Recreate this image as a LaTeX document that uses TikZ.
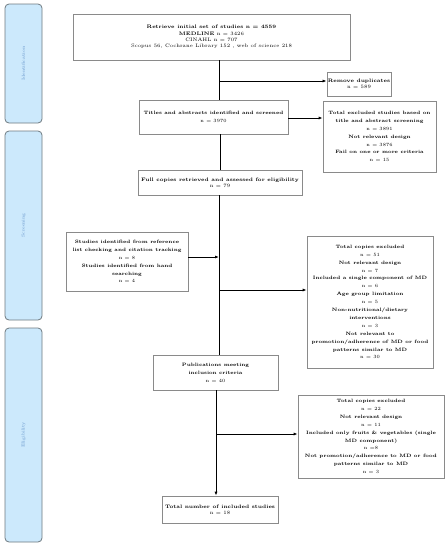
\documentclass[tikz,border=0pt]{standalone}
\usetikzlibrary{arrows.meta}
\definecolor{barfill}{HTML}{CCE9FC}
\definecolor{barline}{HTML}{6F7A80}
\definecolor{bartext}{HTML}{5E8FC8}
\definecolor{boxline}{HTML}{8A8A8A}
\begin{document}
\begin{tikzpicture}[x=1pt,y=-1pt,
  phase/.style={draw=barline,line width=0.8pt,fill=barfill,rounded corners=4pt,minimum width=37pt,inner sep=0pt},
  phasetext/.style={rotate=90,text=bartext,font=\fontsize{4.3}{5}\selectfont},
  fbox/.style={draw=boxline,line width=0.7pt,align=center,inner sep=1pt,font=\fontsize{4.8}{7.9}\selectfont},
  tightbox/.style={fbox,font=\fontsize{5}{6.4}\selectfont},
  conn/.style={line width=0.8pt,black},
  arr/.style={conn,-{Latex[length=4pt,width=3pt]}}]
\useasboundingbox (0,0) rectangle (447,550);
\fill[white] (0,0) rectangle (447,550);
% phase bars
\node[phase,minimum height=119pt] (idb) at (23.5,63.5) {};
\node[phasetext] (idt) at (idb.center) {Identification};
\node[phase,minimum height=189pt] (scb) at (23.5,225.5) {};
\node[phasetext] (sct) at (scb.center) {Screening};
\node[phase,minimum height=214pt] (elb) at (23.5,435) {};
\node[phasetext] (elt) at (elb.center) {Eligibility};
% boxes
\node[tightbox,minimum width=277pt,minimum height=46pt] (box1) at (211.5,37) {\textbf{Retrieve initial set of studies n = 4559}\\\textbf{MEDLINE} n = 3426\\CINAHL n = 707\\Scopus 56, Cochrane Library 152 , web of science 218};
\node[tightbox,minimum width=64pt,minimum height=24pt] (dup) at (359,84) {\textbf{Remove duplicates}\\n = 589};
\node[fbox,minimum width=149pt,minimum height=34pt] (titles) at (213.5,117) {\textbf{Titles and abstracts identified and screened}\\n = 3970};
\node[fbox,minimum width=113pt,minimum height=71pt] (ex1) at (379.5,136.5) {\textbf{Total excluded studies based on}\\\textbf{title and abstract screening}\\n = 3891\\\textbf{Not relevant design}\\n = 3876\\\textbf{Fail on one or more criteria}\\n = 15};
\node[tightbox,minimum width=164pt,minimum height=25pt] (full) at (220,182.5) {\textbf{Full copies retrieved and assessed for eligibility}\\n = 79};
\node[fbox,minimum width=122pt,minimum height=59pt] (stud) at (127,261.5) {\textbf{Studies identified from reference}\\\textbf{list checking and citation tracking}\\n = 8\\\textbf{Studies identified from hand}\\\textbf{searching}\\n = 4};
\node[fbox,minimum width=126pt,minimum height=132pt] (ex2) at (370,302) {\textbf{Total copies excluded}\\n = 51\\\textbf{Not relevant design}\\n = 7\\\textbf{Included a single component of MD}\\n = 6\\\textbf{Age group limitation}\\n = 5\\\textbf{Non-nutritional/dietary}\\\textbf{interventions}\\n = 3\\\textbf{Not relevant to}\\\textbf{promotion/adherence of MD or food}\\\textbf{patterns similar to MD}\\n = 30};
\node[fbox,minimum width=125pt,minimum height=35pt] (pub) at (215.5,372.5) {\textbf{Publications meeting}\\\textbf{inclusion criteria}\\n = 40};
\node[fbox,minimum width=146pt,minimum height=83pt] (ex3) at (371,436.5) {\textbf{Total copies excluded}\\n = 22\\\textbf{Not relevant design}\\n = 11\\\textbf{Included only fruits \& vegetables (single}\\\textbf{MD component)}\\n =8\\\textbf{Not promotion/adherence to MD or food}\\\textbf{patterns similar to MD}\\n = 3};
\node[tightbox,minimum width=116pt,minimum height=27pt] (tot) at (220,509.5) {\textbf{Total number of included studies}\\n = 18};
% trunk coordinates
\coordinate (tA) at (219,81);
\coordinate (tB) at (220.5,150);
\coordinate (tC) at (219,257);
\coordinate (tD) at (219,290);
\coordinate (tE) at (216,434);
% connectors
\draw[conn] (box1.south -| tA) -- (titles.north -| tA);
\draw[arr] (tA) -- (tA -| dup.west);
\draw[arr] (titles.east |- 0,118) -- (ex1.west |- 0,118);
\draw[conn] (titles.south -| tB) -- (full.north -| tB);
\draw[conn] (full.south -| tC) -- (pub.north -| tC);
\draw[arr] (stud.east |- tC) -- (tC);
\draw[arr] (tD) -- (tD -| ex2.west);
\draw[arr] (pub.south -| tE) -- (tot.north -| tE);
\draw[arr] (tE) -- (tE -| ex3.west);
\end{tikzpicture}
\end{document}
